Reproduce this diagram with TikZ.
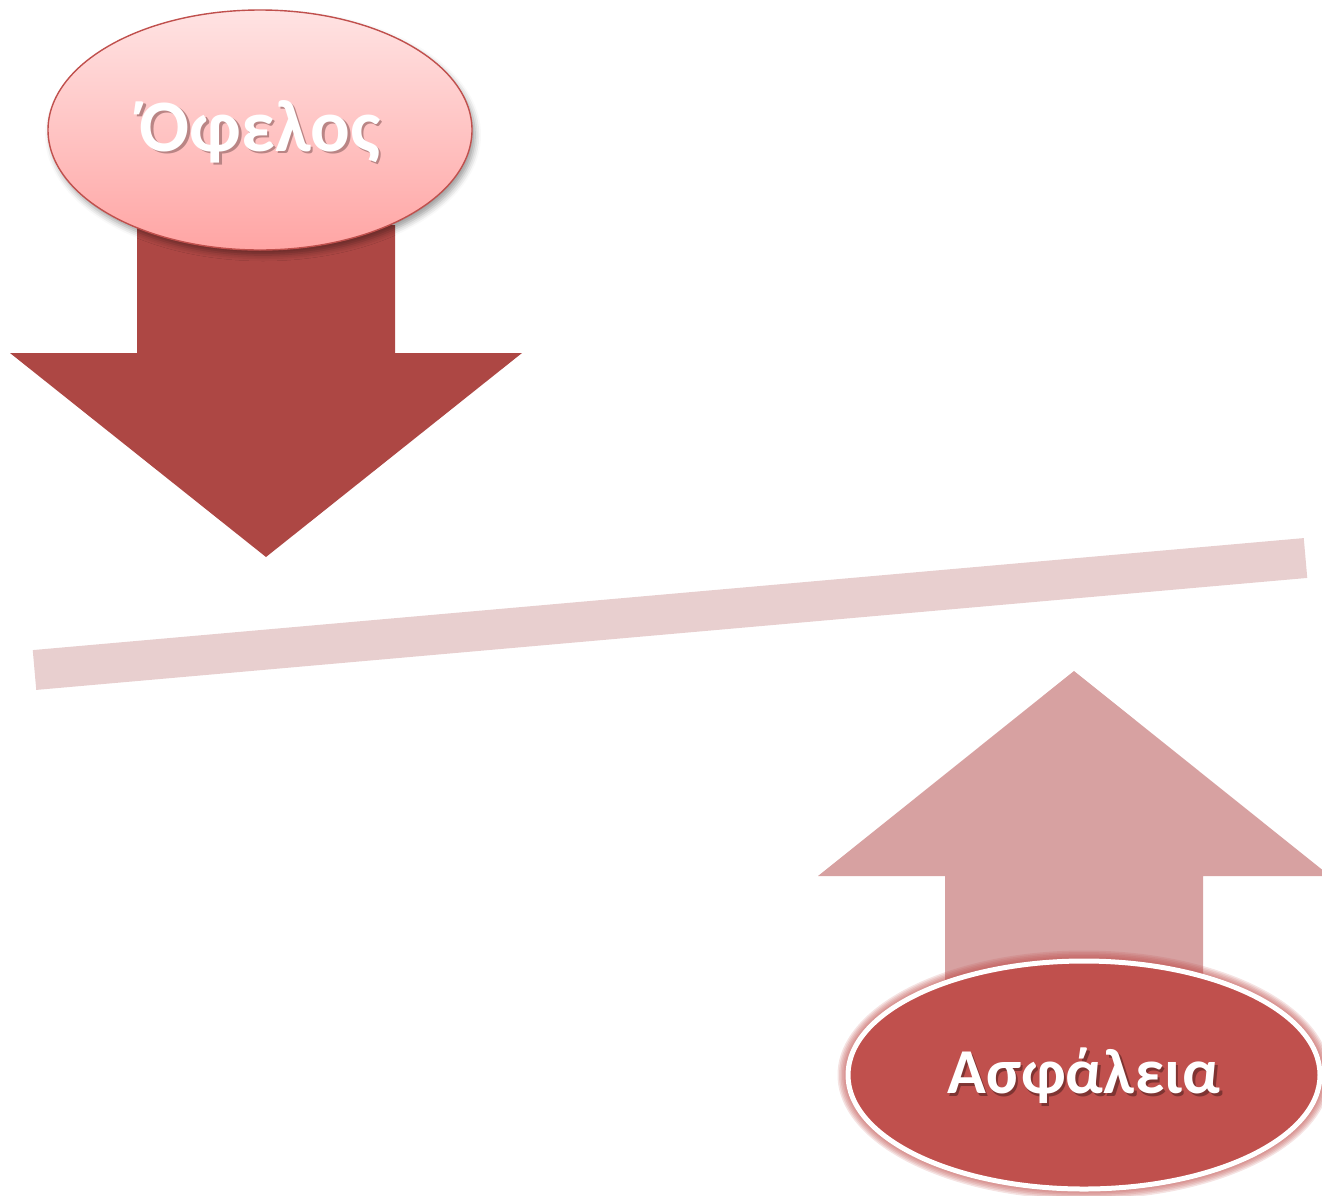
\documentclass[tikz,border=0pt]{standalone}
\usepackage{fontspec}
\setmainfont{Carlito}
\usetikzlibrary{shapes.geometric,shadows.blur}
\definecolor{darkred}{HTML}{AD4744}
\definecolor{accentred}{HTML}{C0504D}
\definecolor{softred}{HTML}{D7A1A1}
\definecolor{barpink}{HTML}{E8CFCF}
\definecolor{pinktop}{HTML}{FFE3E3}
\definecolor{pinkbottom}{HTML}{FFA5A4}
\definecolor{pinkshade}{HTML}{B98585}
\definecolor{redshade}{HTML}{7E3432}
% white lettering with a soft offset shade behind it, in one box
\newcommand{\shadedword}[2]{%
  \makebox[0pt][l]{\hspace{2.5pt}\raisebox{-2.5pt}{\textcolor{#1}{#2}}}\textcolor{white}{#2}}
\tikzset{
  bubble/.style={ellipse, inner sep=0pt},
  glow ring/.style={ellipse, inner sep=0pt, fill=accentred, fill opacity=0.16},
}
\begin{document}
\begin{tikzpicture}[x=1pt,y=-1pt]
\useasboundingbox (0,0) rectangle (1322,1195);

% balance beam
\draw[barpink, line width=40pt] (34.5,670) -- (1305.5,558);

% downward arrow
\fill[darkred] (137,225) -- (395,225) -- (395,353) -- (522,353) -- (266,557)
  -- (10,353) -- (137,353) -- cycle;

% upward arrow
\fill[softred] (945,990) -- (945,876) -- (818,876) -- (1074,671) -- (1330,876)
  -- (1203,876) -- (1203,990) -- cycle;

% top bubble
\node[bubble, minimum width=424pt, minimum height=240pt,
      top color=pinktop, bottom color=pinkbottom,
      draw=accentred, line width=1.4pt,
      blur shadow={shadow xshift=3pt, shadow yshift=-5pt, shadow opacity=40, shadow blur radius=6pt}]
  (benefit) at (260,130) {};
\node[font=\fontsize{74}{80}\selectfont\bfseries] (benefittext) at ([yshift=-3pt]benefit.center)
  {\shadedword{pinkshade}{Όφελος}};

% soft glow around the bottom bubble
\foreach \g in {1,...,7}{
  \node[glow ring, minimum width={472pt+3pt*\g}, minimum height={228pt+3pt*\g}]
    at (1084,1075) {};
}
\node[bubble, minimum width=472pt, minimum height=228pt,
      fill=accentred, draw=white, line width=5pt]
  (safety) at (1084,1075) {};
\node[font=\fontsize{64}{72}\selectfont\bfseries] (safetytext) at ([yshift=-2pt]safety.center)
  {\shadedword{redshade}{Ασφάλεια}};
\end{tikzpicture}
\end{document}
